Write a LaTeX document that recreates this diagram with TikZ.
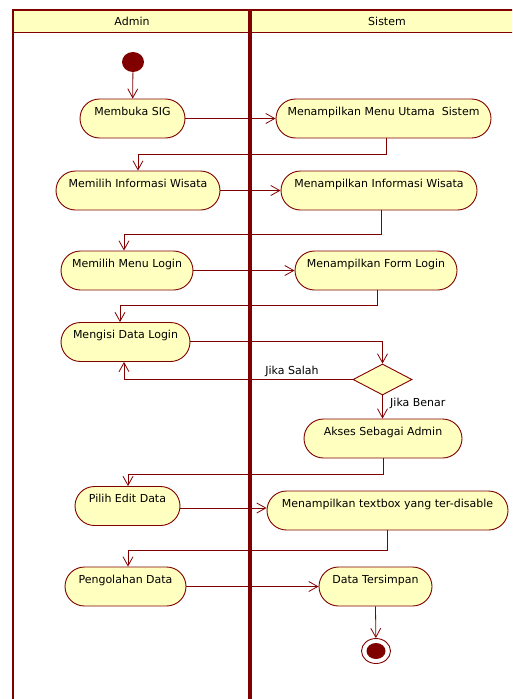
\documentclass[tikz,border=0pt]{standalone}
\usepackage{fontspec}
\setmainfont{DejaVu Sans}
\usetikzlibrary{arrows.meta,shapes.geometric}
\definecolor{lanered}{HTML}{800000}
\definecolor{actfill}{HTML}{FFFFC0}
\begin{document}
\begin{tikzpicture}[x=1pt,y=-1pt,
  every node/.style={font=\fontsize{11}{13}\selectfont},
  act/.style={draw=lanered, fill=actfill, line width=0.9pt, rounded corners=19.5pt,
    minimum height=39pt, inner sep=0pt, text height=9pt, text depth=16pt},
  decision/.style={diamond, draw=lanered, fill=actfill, line width=0.9pt,
    minimum width=59pt, minimum height=31pt, inner sep=0pt, aspect=1.9},
  startnode/.style={ellipse, fill=lanered, minimum width=22pt, minimum height=20pt, inner sep=0pt},
  endouter/.style={ellipse, draw=lanered, fill=white, line width=0.9pt, minimum width=29pt, minimum height=25pt, inner sep=0pt},
  endinner/.style={ellipse, fill=lanered, minimum width=19pt, minimum height=16pt, inner sep=0pt},
  flow/.style={draw=lanered, line width=0.8pt, -{Straight Barb[length=9pt,width=10pt,line width=0.8pt]}},
  lbl/.style={inner sep=0pt, text=black},
  lane/.style={draw=lanered, line width=2.5pt}
]
\useasboundingbox (0,0) rectangle (512,699);
\clip (0,0) rectangle (512,699);

% swimlane frame and headers
\fill[actfill] (13,10) rectangle (530,32);
\draw[lanered, line width=0.9pt] (13,32) -- (530,32);
\draw[lane] (13,720) -- (13,10) -- (530,10);
\draw[lanered, line width=4pt] (250,9) -- (250,720);
\node (hadmin) at (132,21.5) {Admin};
\node (hsistem) at (387,21.5) {Sistem};

% activities
\node[startnode] (st) at (133,62) {};
\node[act, minimum width=105pt] (a1) at (132.5,118.5) {Membuka SIG};
\node[act, minimum width=215pt] (s1) at (383.5,118.5) {Menampilkan Menu Utama\ \ Sistem};
\node[act, minimum width=164pt] (a2) at (138,190.5) {Memilih Informasi Wisata};
\node[act, minimum width=196pt] (s2) at (379,190.5) {Menampilkan Informasi Wisata};
\node[act, minimum width=132pt] (a3) at (127,270.5) {Memilih Menu Login};
\node[act, minimum width=162pt] (s3) at (376,270.5) {Menampilkan Form Login};
\node[act, minimum width=129pt] (a4) at (125.5,342) {Mengisi Data Login};
\node[decision] (d) at (382.5,379.5) {};
\node[act, minimum width=158pt] (s4) at (383,438.5) {Akses Sebagai Admin};
\node[act, minimum width=105pt] (a5) at (127.5,506) {Pilih Edit Data};
\node[act, minimum width=241pt] (s5) at (387.5,510.5) {Menampilkan textbox yang ter-disable};
\node[act, minimum width=121pt] (a6) at (125.5,586.5) {Pengolahan Data};
\node[act, minimum width=113pt] (s6) at (375.5,586.5) {Data Tersimpan};
\node[endouter] (en) at (376,651) {};
\node[endinner] (enin) at (en) {};

% control flow
\draw[flow] (st) -- (a1);
\draw[flow] (a1) -- (s1);
\draw[flow] ([xshift=2.5pt]s1.south) |- (138,154) -- (a2.north);
\draw[flow] (a2) -- (s2);
\draw[flow] ([xshift=2pt]s2.south) |- (124,234) -- ([xshift=-3pt]a3.north);
\draw[flow] (a3) -- (s3);
\draw[flow] ([xshift=1pt]s3.south) |- (120,305) -- ([xshift=-5.5pt]a4.north);
\draw[flow] ([yshift=1pt]a4.east) -| (d.north);
\draw[flow] (d.west) -| ([xshift=-1.5pt]a4.south);
\node[lbl] (salah) at (292,371) {Jika Salah};
\draw[flow] (d.south) -- (d.south |- s4.north);
\node[lbl, anchor=west] (benar) at (390,403) {Jika Benar};
\draw[flow] (s4.south) |- (128,474) -- ([xshift=0.5pt]a5.north);
\draw[flow] ([yshift=-2pt]a5.east) -- ([yshift=-2pt]a5.east -| s5.west);
\draw[flow] ([xshift=-0.5pt]s5.south) |- (128,550) -- ([xshift=2.5pt]a6.north);
\draw[flow] (a6) -- (s6);
\draw[flow] (s6.south) -- (en);
\end{tikzpicture}
\end{document}
